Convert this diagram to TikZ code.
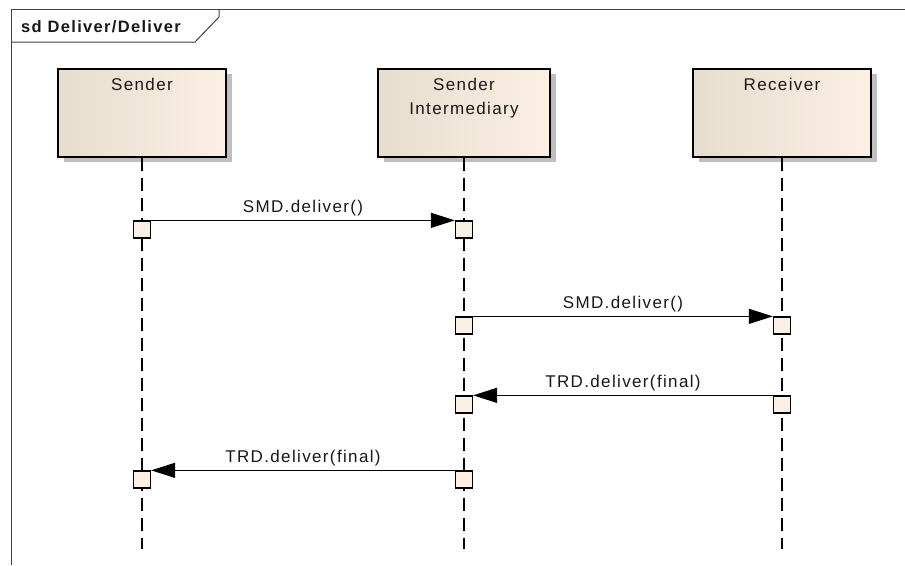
\documentclass[tikz,border=0pt]{standalone}
\usepackage{fontspec}
\newfontfamily\diagfont[LetterSpace=8]{Liberation Sans}
\usetikzlibrary{arrows.meta,shadows}

\definecolor{framecol}{RGB}{64,64,64}
\definecolor{headleft}{RGB}{230,221,207}
\definecolor{headright}{RGB}{251,240,227}
\definecolor{actfill}{RGB}{251,240,227}
\definecolor{inkcol}{RGB}{25,25,25}

\tikzset{
  frameline/.style={draw=framecol, line width=1pt},
  head/.style={draw=black, line width=1.4pt, minimum height=88pt, inner sep=0pt,
    left color=headleft, right color=headright,
    drop shadow={shadow xshift=6pt, shadow yshift=-5pt, fill=black!25, opacity=1}},
  headtext/.style={anchor=north, inner sep=0pt, align=center, text=inkcol,
    font=\diagfont\fontsize{17}{24}\selectfont},
  lifeline/.style={draw=black, line width=1.4pt, dash pattern=on 13pt off 7pt},
  act/.style={draw=black, fill=actfill, line width=1.3pt, minimum size=17pt, inner sep=0pt},
  msg/.style={draw=black, line width=1.3pt, -{Triangle[length=24pt, width=15pt]}},
  msglabel/.style={anchor=base, yshift=8pt, inner sep=0pt, text=inkcol,
    font=\diagfont\fontsize{17}{20}\selectfont}
}

\begin{document}
\begin{tikzpicture}[x=1pt, y=-1pt]
  \useasboundingbox (0,0) rectangle (905,565);
  \fill[white] (0,0) rectangle (905,565);

  % outer frame with its name tab
  \coordinate (fTL) at (11,9);
  \coordinate (fTR) at (905,9);
  \coordinate (fBL) at (11,565);
  \draw[frameline] (fTR) -- (fTL) -- (fBL);
  \draw[frameline] (11,42) -- (195,42) -- (219,17) -- (219,9);
  \node[anchor=base west, inner sep=0pt, text=inkcol,
        font=\diagfont\bfseries\fontsize{16.5}{20}\selectfont] (title) at (21,32) {sd Deliver/Deliver};

  % lifeline heads
  \node[head, minimum width=168pt] (S) at (142,113) {};
  \node[head, minimum width=172pt] (I) at (464,113) {};
  \node[head, minimum width=178pt] (R) at (782,113) {};
  \node[headtext] (St) at ([yshift=-10pt]S.north) {Sender};
  \node[headtext] (It) at ([yshift=-10pt]I.north) {Sender\\Intermediary};
  \node[headtext] (Rt) at ([yshift=-10pt]R.north) {Receiver};

  % lifelines
  \coordinate (Send) at (142,549);
  \coordinate (Iend) at (464,549);
  \coordinate (Rend) at (782,549);
  \draw[lifeline] (S.south) -- (Send);
  \draw[lifeline] (I.south) -- (Iend);
  \draw[lifeline] (R.south) -- (Rend);

  % activations
  \node[act] (s1) at (142,229.5) {};
  \node[act] (i1) at (464,229.5) {};
  \node[act] (i2) at (464,325.5) {};
  \node[act] (r2) at (782,325.5) {};
  \node[act] (r3) at (782,404.5) {};
  \node[act] (i3) at (464,404.5) {};
  \node[act] (i4) at (464,479.5) {};
  \node[act] (s4) at (142,479.5) {};

  % messages
  \draw[msg] (s1.north east) -- node[msglabel] (m1) {SMD.deliver()} (i1.north west);
  \draw[msg] (i2.north east) -- node[msglabel] (m2) {SMD.deliver()} (r2.north west);
  \draw[msg] (r3.north west) -- node[msglabel] (m3) {TRD.deliver(final)} (i3.north east);
  \draw[msg] (i4.north west) -- node[msglabel] (m4) {TRD.deliver(final)} (s4.north east);
\end{tikzpicture}
\end{document}
